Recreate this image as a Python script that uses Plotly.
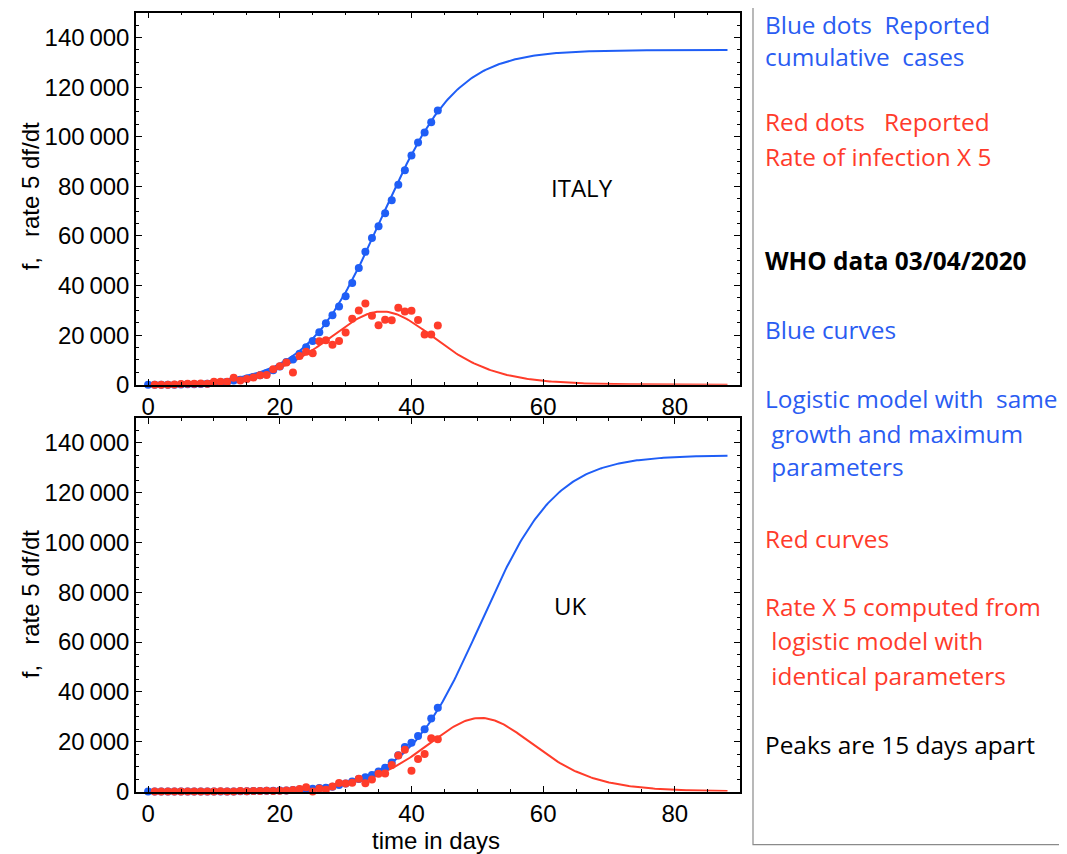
import math
import plotly.graph_objects as go

# ---------------- data ----------------
italy_days = list(range(0, 45))
italy_cumulative = [3, 3, 3, 3, 20, 79, 157, 229, 322, 400,
                    650, 888, 1128, 1694, 2036, 2502, 3089, 3858, 4636, 5883,
                    7375, 9172, 10149, 12462, 15113, 17660, 21157, 24747, 27980, 31506,
                    35713, 41035, 47021, 53578, 59138, 63927, 69176, 74386, 80589, 86498,
                    92472, 97689, 101739, 105792, 110574]
italy_rate_days = list(range(1, 45))
italy_rate_x5 = [0, 0, 0, 85, 295, 390, 360, 465, 390, 1250,
                 1190, 1200, 2830, 1710, 2330, 2935, 3845, 3890, 6235, 7460,
                 8985, 4885, 11565, 13255, 12735, 17485, 17950, 16165, 17630, 21035,
                 26610, 29930, 32785, 27800, 23945, 26245, 26050, 31015, 29545, 29870,
                 26085, 20250, 20265, 23910]

uk_days = list(range(0, 45))
uk_cumulative = [9, 9, 9, 9, 13, 13, 13, 13, 15, 16,
                 20, 36, 40, 51, 87, 116, 164, 207, 273, 321,
                 383, 460, 590, 798, 1140, 1140, 1391, 1543, 1950, 2626,
                 3269, 3983, 5018, 5683, 6650, 8077, 9529, 11658, 14543, 17900,
                 19600, 22300, 25000, 29300, 33600]
uk_rate_days = list(range(1, 45))
uk_rate_x5 = [0, 0, 0, 20, 0, 0, 0, 10, 5, 20,
              80, 20, 55, 180, 145, 240, 215, 330, 240, 310,
              385, 650, 1040, 1710, 0, 1255, 760, 2035, 3380, 3215,
              3570, 5175, 3325, 4835, 7135, 7260, 10645, 14425, 16750, 8300,
              13100, 15100, 21400, 21000]

# logistic model parameters (same growth and maximum, peaks 15 days apart)
K_max = 135000
growth = 0.175
italy_mid = 35.5
uk_mid = 50.5
model_t = [i * 0.25 for i in range(0, 353)]  # 0 .. 88 days

x_ticks = [0, 20, 40, 60, 80]
y_ticks = [0, 20000, 40000, 60000, 80000, 100000, 120000, 140000]

panel_lines = [
    ("Blue dots  Reported", "#2a5cf2", False, 764, 24),
    ("cumulative  cases", "#2a5cf2", False, 764, 56),
    ("Red dots   Reported", "#ff3b2b", False, 764, 121),
    ("Rate of infection X 5", "#ff3b2b", False, 764, 156),
    ("WHO data 03/04/2020", "#000000", True, 764, 260),
    ("Blue curves", "#2a5cf2", False, 764, 329),
    ("Logistic model with  same", "#2a5cf2", False, 764, 398),
    (" growth and maximum", "#2a5cf2", False, 764, 433),
    (" parameters", "#2a5cf2", False, 764, 466),
    ("Red curves", "#ff3b2b", False, 764, 537),
    ("Rate X 5 computed from", "#ff3b2b", False, 764, 605),
    (" logistic model with", "#ff3b2b", False, 764, 639),
    (" identical parameters", "#ff3b2b", False, 764, 674),
    ("Peaks are 15 days apart", "#000000", False, 764, 743),
]

BLUE = "#1f5ef6"
RED = "#ff3c2a"
# page placement: 8px body margin, vertical screen scale measured from earlier renders
OFF = 8
VS = 0.983
W, H = 1067 - OFF, 862


def px(x):
    return (x - OFF) / W


def py(y):
    return 1 - ((y - OFF) / VS) / H


def logistic(t, mid):
    return K_max / (1.0 + math.exp(-growth * (t - mid)))


def rate5(t, mid):
    f = logistic(t, mid)
    return 5.0 * growth * f * (1.0 - f / K_max)


fig = go.Figure()

for (xa, ya, mid, cd, cv, rd, rv) in [
    ("x", "y", italy_mid, italy_days, italy_cumulative, italy_rate_days, italy_rate_x5),
    ("x2", "y2", uk_mid, uk_days, uk_cumulative, uk_rate_days, uk_rate_x5),
]:
    fig.add_trace(go.Scatter(x=model_t, y=[logistic(t, mid) for t in model_t], mode="lines",
                             line=dict(color=BLUE, width=2), xaxis=xa, yaxis=ya))
    fig.add_trace(go.Scatter(x=model_t, y=[rate5(t, mid) for t in model_t], mode="lines",
                             line=dict(color=RED, width=2), xaxis=xa, yaxis=ya))
    fig.add_trace(go.Scatter(x=cd, y=cv, mode="markers", cliponaxis=False,
                             marker=dict(color=BLUE, size=8), xaxis=xa, yaxis=ya))
    fig.add_trace(go.Scatter(x=rd, y=rv, mode="markers", cliponaxis=False,
                             marker=dict(color=RED, size=8), xaxis=xa, yaxis=ya))

tick_font = dict(family="Liberation Sans, Arial, sans-serif", size=24, color="black")
top_dom = [py(384), py(12.7)]
bot_dom = [py(790), py(417)]

xcommon = dict(range=[-1.84, 89.9], tickvals=x_ticks, ticks="inside", ticklen=6, tickwidth=1.3,
               tickcolor="black", showline=True, linecolor="black", linewidth=1.5,
               mirror="allticks", showgrid=False, zeroline=False, tickfont=tick_font,
               minor=dict(dtick=5, tick0=0, ticks="inside", ticklen=3, tickcolor="black", tickwidth=1),
               domain=[px(136), px(740)])
ycommon = dict(range=[0, 150000], tickvals=y_ticks, tickformat=",d", ticks="inside", ticklen=6,
               tickwidth=1.3, tickcolor="black", showline=True, linecolor="black", linewidth=1.5,
               mirror="allticks", showgrid=False, zeroline=False, tickfont=tick_font,
               minor=dict(dtick=5000, tick0=0, ticks="inside", ticklen=3, tickcolor="black", tickwidth=1))

fig.update_layout(
    width=W, height=H, margin=dict(l=0, r=0, t=0, b=0),
    paper_bgcolor="white", plot_bgcolor="white", showlegend=False,
    separators=".\u2009",
    xaxis=dict(xcommon, anchor="y"),
    yaxis=dict(ycommon, domain=top_dom, anchor="x"),
    xaxis2=dict(xcommon, anchor="y2"),
    yaxis2=dict(ycommon, domain=bot_dom, anchor="x2"),
)

annotations = []
ylab = "f,\u00a0\u00a0 rate 5 df/dt"
for yc in [196, 603]:
    annotations.append(dict(text=ylab, xref="paper", yref="paper", x=px(30), y=py(yc),
                            xanchor="center", yanchor="middle", textangle=-90, showarrow=False,
                            font=tick_font))
annotations.append(dict(text="time in days", xref="paper", yref="paper", x=px(436), y=py(839),
                        xanchor="center", yanchor="middle", showarrow=False, font=tick_font,
                        borderpad=0))
country_font = dict(family="Open Sans, sans-serif", size=24, color="black")
annotations.append(dict(text="ITALY", xref="paper", yref="paper", x=px(582), y=py(187),
                        xanchor="center", yanchor="middle", showarrow=False, font=country_font))
annotations.append(dict(text="UK", xref="paper", yref="paper", x=px(570), y=py(604),
                        xanchor="center", yanchor="middle", showarrow=False, font=country_font))
for text, color, bold, xp, yp in panel_lines:
    t = text.replace(" ", "\u00a0")
    if bold:
        t = "<b>" + t + "</b>"
    annotations.append(dict(text=t, xref="paper", yref="paper", x=px(xp), y=py(yp),
                            xanchor="left", yanchor="middle", showarrow=False, borderpad=0,
                            font=dict(family="Open Sans, sans-serif", size=24.4, color=color)))
fig.update_layout(annotations=annotations)

fig.add_shape(type="rect", xref="paper", yref="paper", x0=px(753), x1=1.1, y0=py(843), y1=1.1,
              line=dict(color="#8a8a8a", width=1.2), fillcolor="rgba(0,0,0,0)", layer="below")

fig.write_html("out.html")
